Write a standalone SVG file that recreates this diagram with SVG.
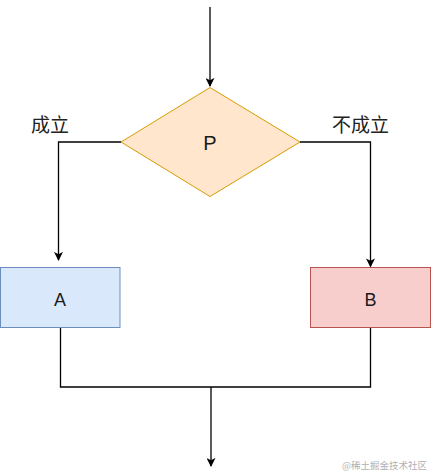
<svg xmlns="http://www.w3.org/2000/svg" width="431" height="476" viewBox="0 0 431 476">
<defs>
<style>
.edge{fill:none;stroke:#000;stroke-width:1.3}
.lbl{font-family:"Liberation Sans","Noto Sans CJK SC",sans-serif;fill:#1a1a1a}
.cjk{font-family:"Noto Sans CJK SC","Liberation Sans",sans-serif;font-size:19px;fill:#222}
</style>
<marker id="arr" viewBox="0 0 10 10" refX="9" refY="5" markerWidth="9" markerHeight="9" markerUnits="userSpaceOnUse" orient="auto">
<path d="M0,0 L10,5 L0,10 L2.5,5 Z" fill="#000"/>
</marker>
</defs>
<rect width="431" height="476" fill="#fff"/>
<g id="connectors">
<path class="edge" d="M210,7 V86" marker-end="url(#arr)"/>
<path class="edge" d="M121,142 H58.5 V260" marker-end="url(#arr)"/>
<path class="edge" d="M300,142 H370.5 V266.5" marker-end="url(#arr)"/>
<path class="edge" d="M60.5,327 V387 H370.5 V327"/>
<path class="edge" d="M211,387 V466" marker-end="url(#arr)"/>
</g>
<g id="label-yes"><text class="cjk" x="50" y="131.5" text-anchor="middle">成立</text></g>
<g id="label-no"><text class="cjk" x="360.5" y="131.5" text-anchor="middle">不成立</text></g>
<g id="node-P">
<polygon points="210,87.5 300,142 210,196.5 121,142" fill="#ffe6cc" stroke="#d79b00" stroke-width="1"/>
<text class="lbl" x="210" y="150" text-anchor="middle" font-size="20">P</text>
</g>
<g id="node-A">
<rect x="0.5" y="267.5" width="119.5" height="60" fill="#dae8fc" stroke="#6c8ebf" stroke-width="1"/>
<text class="lbl" x="60" y="306" text-anchor="middle" font-size="18">A</text>
</g>
<g id="node-B">
<rect x="310.5" y="267.5" width="120" height="60" fill="#f8cecc" stroke="#b85450" stroke-width="1"/>
<text class="lbl" x="370.5" y="306" text-anchor="middle" font-size="18">B</text>
</g>
<text x="427" y="469" text-anchor="end" font-family="Noto Sans CJK SC,sans-serif" font-size="9.5" fill="#b0b0b0">@稀土掘金技术社区</text>
</svg>
